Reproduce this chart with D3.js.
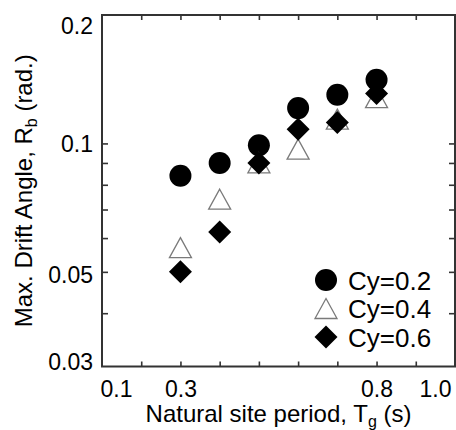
<!DOCTYPE html>
<html>
<head>
<meta charset="utf-8">
<script src="https://cdn.jsdelivr.net/npm/d3@7"></script>
<style>
  html, body { margin: 0; padding: 0; background: #fff; }
  svg { display: block; }
  text { font-family: "Liberation Sans", Arial, Helvetica, sans-serif; fill: #000; }
</style>
</head>
<body>
<svg id="chart" width="456" height="430"></svg>
<script>
// ---- data ----
const periods = [0.3, 0.4, 0.5, 0.6, 0.7, 0.8];
const cy02 = [0.084, 0.090, 0.099, 0.121, 0.130, 0.141];
const cy04 = [0.057, 0.074, 0.090, 0.097, 0.114, 0.128];
const cy06 = [0.050, 0.062, 0.090, 0.108, 0.112, 0.131];
const seriesNames = ["Cy=0.2", "Cy=0.4", "Cy=0.6"];

const xTickMarks = [0.2, 0.3, 0.4, 0.5, 0.6, 0.7, 0.8, 0.9];
const xTickLabels = [0.1, 0.3, 0.8, 1.0];
const xTickText = ["0.1", "0.3", "0.8", "1.0"];
const yTickMarks = [0.04, 0.05, 0.06, 0.07, 0.08, 0.09, 0.1];
const yTickLabels = [0.03, 0.05, 0.1, 0.2];
const yTickText = ["0.03", "0.05", "0.1", "0.2"];

// ---- layout ----
const L = 102, R = 455, T = 15, B = 366.5;
const svg = d3.select("#chart");
svg.append("rect").attr("width", 456).attr("height", 430).attr("fill", "#fff");

const x = d3.scaleLinear().domain([0.1, 1.0]).range([L, R]);
const y = d3.scaleLog().domain([0.03, 0.2]).range([B, T]);

const axisColor = "#333";

// tick marks (inward) on all four sides
function styleTicks(g) {
  g.select(".domain").remove();
  g.selectAll(".tick line").attr("stroke", axisColor).attr("stroke-width", 1.6);
  g.selectAll(".tick text").remove();
}
svg.append("g").attr("transform", `translate(0,${B})`)
  .call(d3.axisBottom(x).tickValues(xTickMarks).tickSize(-5).tickFormat("")).call(styleTicks);
svg.append("g").attr("transform", `translate(0,${T})`)
  .call(d3.axisTop(x).tickValues(xTickMarks).tickSize(-5).tickFormat("")).call(styleTicks);
svg.append("g").attr("transform", `translate(${L},0)`)
  .call(d3.axisLeft(y).tickValues(yTickMarks).tickSize(-6).tickFormat("")).call(styleTicks);
svg.append("g").attr("transform", `translate(${R},0)`)
  .call(d3.axisRight(y).tickValues(yTickMarks).tickSize(-6).tickFormat("")).call(styleTicks);

// frame
svg.append("rect").attr("x", L).attr("y", T).attr("width", R - L).attr("height", B - T)
  .attr("fill", "none").attr("stroke", axisColor).attr("stroke-width", 2);

// x tick labels
const xl = svg.append("g").attr("transform", `translate(0,${B})`)
  .call(d3.axisBottom(x).tickValues(xTickLabels).tickSize(0).tickPadding(0)
    .tickFormat((d, i) => xTickText[i]));
xl.select(".domain").remove();
xl.selectAll(".tick text")
  .attr("font-size", 23).attr("font-family", "Liberation Sans, Arial, sans-serif")
  .attr("fill", "#000")
  .attr("dy", null).attr("y", 30.5)
  .attr("dx", (d, i) => i === 0 ? 14 : (i === xTickLabels.length - 1 ? -20 : 0));

// y tick labels
const yl = svg.append("g").attr("transform", `translate(${L},0)`)
  .call(d3.axisLeft(y).tickValues(yTickLabels).tickSize(0).tickPadding(9)
    .tickFormat((d, i) => yTickText[i]));
yl.select(".domain").remove();
yl.selectAll(".tick text")
  .attr("font-size", 23).attr("font-family", "Liberation Sans, Arial, sans-serif")
  .attr("fill", "#000")
  .attr("dy", d => {
    const yy = y(d);
    const c = Math.max(T + 10, Math.min(B - 5, yy + (d === 0.05 ? 3 : 0)));
    return (c - yy + 8) + "px";
  });

// axis titles
const xt = svg.append("text").attr("x", (L + R) / 2).attr("y", 422)
  .attr("text-anchor", "middle").attr("font-size", 24);
xt.append("tspan").text("Natural site period, T");
xt.append("tspan").attr("font-size", 16).attr("dy", 5).text("g");
xt.append("tspan").attr("dy", -5).text(" (s)");

const yt = svg.append("text")
  .attr("transform", `translate(32,${(T + B) / 2}) rotate(-90)`)
  .attr("text-anchor", "middle").attr("font-size", 24);
yt.append("tspan").text("Max. Drift Angle, R");
yt.append("tspan").attr("font-size", 16).attr("dy", 5).text("b");
yt.append("tspan").attr("dy", -5).text(" (rad.)");

// marker shapes
const triPath = "M0,-10 L11,10 L-11,10 Z";
const diaPath = "M0,-11.5 L11.5,0 L0,11.5 L-11.5,0 Z";

function drawCircle(g, cx, cy) {
  g.append("circle").attr("cx", cx).attr("cy", cy).attr("r", 11).attr("fill", "#000");
}
function drawTri(g, cx, cy) {
  g.append("path").attr("d", triPath).attr("transform", `translate(${cx},${cy})`)
    .attr("fill", "#fff").attr("stroke", "#7a7a7a").attr("stroke-width", 1.3);
}
function drawDia(g, cx, cy) {
  g.append("path").attr("d", diaPath).attr("transform", `translate(${cx},${cy})`)
    .attr("fill", "#000");
}

const pts = svg.append("g");
periods.forEach((p, i) => drawCircle(pts, x(p), y(cy02[i])));
periods.forEach((p, i) => drawTri(pts, x(p), y(cy04[i])));
periods.forEach((p, i) => drawDia(pts, x(p), y(cy06[i])));

// legend
const lg = svg.append("g");
const drawers = [drawCircle, drawTri, drawDia];
seriesNames.forEach((name, i) => {
  const cy = 280 + i * 28.5;
  drawers[i](lg, 326, cy);
  lg.append("text").attr("x", 348).attr("y", cy + 9.5).attr("font-size", 26).text(name);
});
</script>
</body>
</html>
